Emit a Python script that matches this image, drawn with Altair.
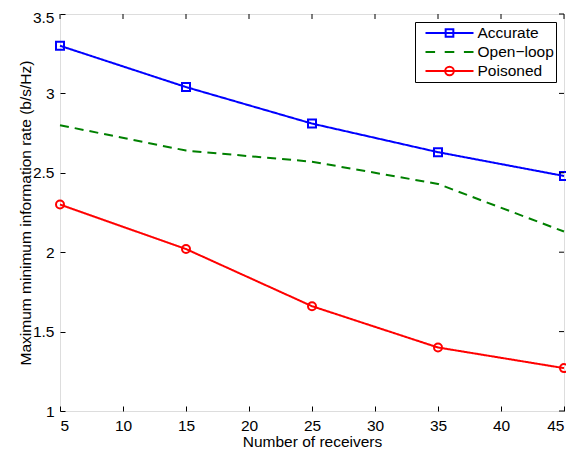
import altair as alt
import pandas as pd

receivers = [5, 15, 25, 35, 45]
accurate = [3.30, 3.04, 2.81, 2.63, 2.48]
open_loop = [2.80, 2.64, 2.57, 2.43, 2.13]
poisoned = [2.30, 2.02, 1.66, 1.40, 1.27]

series_names = ["Accurate", "Open\u2212loop", "Poisoned"]
series_colors = ["#0000ff", "#008000", "#ff0000"]
x_ticks = [5, 10, 15, 20, 25, 30, 35, 40, 45]
y_ticks = [1, 1.5, 2, 2.5, 3, 3.5]

rows = []
for name, vals in zip(series_names, [accurate, open_loop, poisoned]):
    for r, v in zip(receivers, vals):
        rows.append({"receivers": r, "rate": v, "series": name})
df = pd.DataFrame(rows)
xt_df = pd.DataFrame({"v": x_ticks})
yt_df = pd.DataFrame({"v": y_ticks})

FONT = "Liberation Sans"
FS = 15.5
W, H = 504, 397

xscale = alt.Scale(domain=[5, 45], nice=False, zero=False)
yscale = alt.Scale(domain=[1, 3.5], nice=False, zero=False)
color_scale = alt.Scale(domain=series_names, range=series_colors)

common_axis = dict(tickSize=5, offset=-5, domain=False, grid=False,
                   tickColor="black", tickWidth=1, labelFont=FONT,
                   labelFontSize=FS, labelColor="black", titleFont=FONT,
                   titleFontSize=FS, titleFontWeight="normal", titleColor="black")

x_bottom = alt.Axis(values=x_ticks, orient="bottom", title="Number of receivers",
                    labelPadding=7.5, titlePadding=0, **common_axis)
y_left = alt.Axis(values=y_ticks, orient="left", format="~g",
                  title="Maximum minimum information rate (b/s/Hz)",
                  labelPadding=6, titlePadding=-1,
                  labelBaseline={"condition": {"test": "datum.value == 3.5", "value": "top"},
                                 "value": "middle"},
                  labelOffset={"condition": {"test": "datum.value == 3.5", "value": -4},
                               "value": 0},
                  **common_axis)

base = alt.Chart(df)
X = alt.X("receivers:Q", scale=xscale, axis=x_bottom)
Y = alt.Y("rate:Q", scale=yscale, axis=y_left)


def series_line(name, color, dash):
    return base.transform_filter(alt.datum.series == name).mark_line(
        strokeWidth=2, color=color, strokeDash=dash
    ).encode(x=X, y=Y)


line_acc = series_line(series_names[0], series_colors[0], [1, 0])
line_open = series_line(series_names[1], series_colors[1], [9, 6])
line_poi = series_line(series_names[2], series_colors[2], [1, 0])

acc_pts = base.transform_filter(alt.datum.series == series_names[0]).mark_point(
    shape="square", filled=False, size=64, strokeWidth=2, color=series_colors[0], opacity=1
).encode(x=X, y=Y)

poi_pts = base.transform_filter(alt.datum.series == series_names[2]).mark_point(
    shape="circle", filled=False, size=64, strokeWidth=2, color=series_colors[2], opacity=1
).encode(x=X, y=Y)

# inward ticks on the top and right edges of the box
top_ticks = alt.Chart(xt_df).mark_rule(color="black", strokeWidth=1).encode(
    x=alt.X("v:Q", scale=xscale), y=alt.value(0), y2=alt.value(5))
right_ticks = alt.Chart(yt_df).mark_rule(color="black", strokeWidth=1).encode(
    y=alt.Y("v:Q", scale=yscale), x=alt.value(W - 5), x2=alt.value(W))

legend_shapes = [
    "M-1,0H1M-0.16,-0.16H0.16V0.16H-0.16Z",
    "M-1,0H-0.6M-0.2,0H0.2M0.6,0H1",
    "M-1,0H1M-0.18,0A0.18,0.18 0 1,0 0.18,0A0.18,0.18 0 1,0 -0.18,0",
]

leg = alt.Legend(orient="none", legendX=355, legendY=8,
                 strokeColor="black", fillColor="white",
                 padding=1.5, clipHeight=19, rowPadding=0,
                 symbolOffset=8, labelOffset=3,
                 symbolSize=2304, symbolStrokeWidth=2,
                 symbolOpacity=1, labelFont=FONT,
                 labelFontSize=FS, labelColor="black")

legend_layer = base.mark_point(filled=False, opacity=0, size=2304).encode(
    x=X, y=Y,
    color=alt.Color("series:N", scale=color_scale, title=None, legend=leg),
    shape=alt.Shape("series:N", scale=alt.Scale(domain=series_names, range=legend_shapes),
                    title=None, legend=leg),
)

chart = alt.layer(line_acc, line_open, line_poi, acc_pts, poi_pts,
                  top_ticks, right_ticks, legend_layer).properties(
    width=W, height=H,
    padding={"left": 52, "top": 6, "right": 2, "bottom": 39},
    autosize=alt.AutoSizeParams(type="none"),
).configure_view(stroke="black", strokeWidth=1.2).configure(background="white")

chart.save("out.html", embed_options={"renderer": "svg", "actions": False})
